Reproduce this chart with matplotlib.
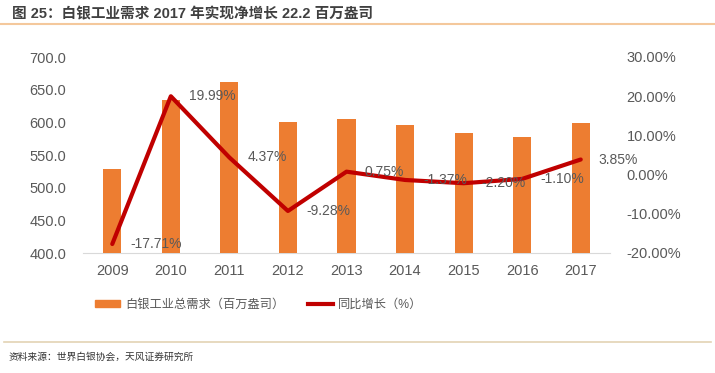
import matplotlib
matplotlib.use("Agg")
import matplotlib.pyplot as plt
from matplotlib.lines import Line2D
from matplotlib.patches import Patch

plt.rcParams["font.family"] = ["Liberation Sans", "Noto Sans CJK SC"]

# ---- data ----
years = ["2009", "2010", "2011", "2012", "2013", "2014", "2015", "2016", "2017"]
demand = [528.0, 634.0, 662.0, 600.5, 605.0, 596.5, 583.0, 577.0, 599.0]
growth = [-17.71, 19.99, 4.37, -9.28, 0.75, -1.37, -2.20, -1.10, 3.85]
left_ticks = [400, 450, 500, 550, 600, 650, 700]
right_ticks = [-20, -10, 0, 10, 20, 30]

BAR_COLOR = "#ED7D31"
LINE_COLOR = "#C00000"
TEXT_GRAY = "#595959"

fig = plt.figure(figsize=(7.15, 3.73), dpi=100)

# title + decorative rules
fig.text(12 / 715, 1 - 14 / 373, "图 25：白银工业需求 2017 年实现净增长 22.2 百万盎司",
         fontsize=10.5, fontweight="bold", color="#404040", va="center", ha="left")
fig.add_artist(Line2D([0, 1], [1 - 24 / 373] * 2, color="#F4C89C", lw=1.5))
fig.add_artist(Line2D([0.005, 0.995], [1 - 342 / 373] * 2, color="#E3D3B4", lw=1.2))
fig.text(9 / 715, 1 - 357 / 373, "资料来源：世界白银协会，天风证券研究所",
         fontsize=7, color="#333333", va="center", ha="left")

ax = fig.add_axes([83 / 715, 1 - 253 / 373, 527 / 715, 196 / 373])
x = list(range(len(years)))
ax.bar(x, [d - 400 for d in demand], bottom=400, width=0.31, color=BAR_COLOR, zorder=2)
ax.set_ylim(400, 700)
ax.set_xlim(-0.5, len(years) - 0.5)
ax.set_yticks(left_ticks)
ax.set_yticklabels([f"{v:.1f}" for v in left_ticks])
ax.set_xticks(x)
ax.set_xticklabels(years)
ax.tick_params(length=0, labelsize=10.5, labelcolor=TEXT_GRAY)
ax.tick_params(axis="x", pad=8)
ax.tick_params(axis="y", pad=12)
for s in ["top", "left", "right"]:
    ax.spines[s].set_visible(False)
ax.spines["bottom"].set_color("#D9D9D9")
ax.spines["bottom"].set_zorder(1)

ax2 = ax.twinx()
ax2.plot(x, growth, color=LINE_COLOR, lw=3, solid_capstyle="round",
         solid_joinstyle="round", zorder=3)
ax2.set_ylim(-20, 30)
ax2.set_yticks(right_ticks)
ax2.set_yticklabels([f"{v:.2f}%" for v in right_ticks])
ax2.tick_params(length=0, labelsize=10.5, labelcolor=TEXT_GRAY, pad=12)
for s in ["top", "left", "right", "bottom"]:
    ax2.spines[s].set_visible(False)
for xi, g in zip(x, growth):
    ax2.annotate(f"{g:.2f}%", (xi, g), xytext=(13, 0), textcoords="offset points",
                 ha="left", va="center", fontsize=10, color=TEXT_GRAY)

handles = [Patch(color=BAR_COLOR), Line2D([0], [0], color=LINE_COLOR, lw=3)]
fig.legend(handles, ["白银工业总需求（百万盎司）", "同比增长（%）"],
           loc="center", bbox_to_anchor=(0.362, 1 - 305 / 373), ncol=2, frameon=False,
           fontsize=8.8, labelcolor=TEXT_GRAY, columnspacing=2.0,
           handlelength=2.0, handleheight=0.55, handletextpad=0.4)

fig.savefig("out.png", dpi=100)
